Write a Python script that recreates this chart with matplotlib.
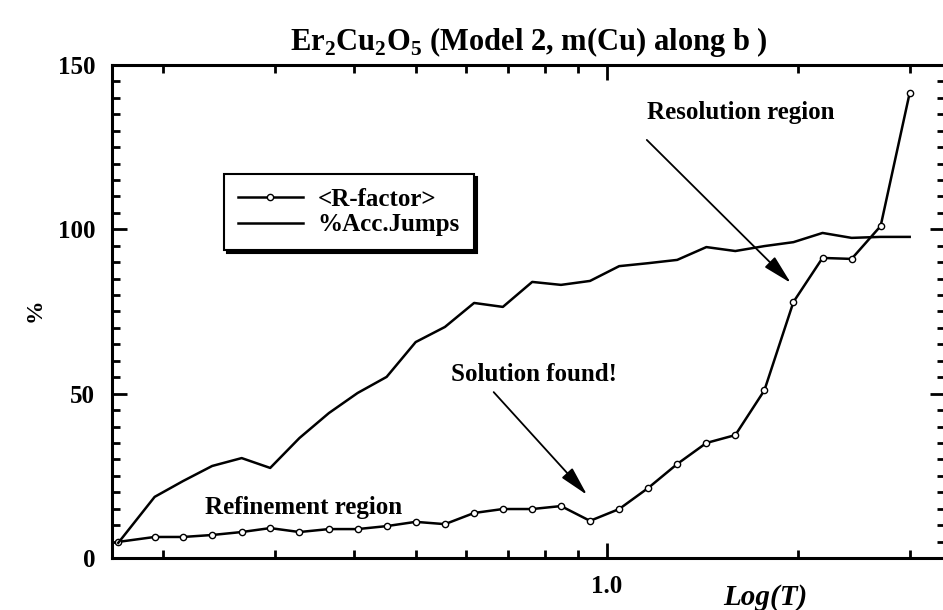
import matplotlib
matplotlib.use("Agg")
import matplotlib.pyplot as plt
from matplotlib.ticker import FixedLocator, MultipleLocator, NullFormatter

plt.rcParams['font.family'] = ['Liberation Serif', 'DejaVu Serif']
plt.rcParams['mathtext.fontset'] = 'custom'
plt.rcParams['mathtext.rm'] = 'Liberation Serif'
plt.rcParams['mathtext.bf'] = 'Liberation Serif:bold'

# temperature steps
temps = [0.170, 0.194, 0.215, 0.239, 0.266, 0.295, 0.328, 0.365, 0.405, 0.450,
         0.500, 0.556, 0.618, 0.686, 0.763, 0.847, 0.941, 1.046, 1.162, 1.291,
         1.435, 1.594, 1.771, 1.968, 2.187, 2.430, 2.700, 3.000]

r_factor = [4.9, 6.4, 6.4, 7.0, 7.9, 9.1, 7.9, 8.8, 8.8, 9.7,
            11.0, 10.3, 13.7, 14.9, 14.9, 15.8, 11.3, 14.9, 21.3, 28.6,
            35.0, 37.4, 51.0, 77.9, 91.3, 91.0, 101.0, 141.5]

acc_jumps = [4.6, 18.6, 23.4, 28.0, 30.4, 27.4, 36.5, 44.1, 50.2, 55.1,
             65.7, 70.3, 77.6, 76.4, 84.0, 83.1, 84.3, 88.8, 89.7, 90.7,
             94.6, 93.4, 94.9, 96.1, 98.9, 97.4, 97.7, 97.7]

x_major = [1.0]
x_minor = [0.2, 0.3, 0.4, 0.5, 0.6, 0.7, 0.8, 0.9, 2.0, 3.0]

fig = plt.figure(figsize=(9.43, 6.10), dpi=100)
ax = fig.add_axes([112/943, 1 - 558/610, 833/943, 493/610])

ax.plot(temps, r_factor, color='black', lw=1.8, marker='o', ms=4.5,
        mfc='white', mec='black', mew=1.0, label='<R-factor>')
ax.plot(temps, acc_jumps, color='black', lw=1.8, label='%Acc.Jumps')

ax.set_xscale('log')
ax.set_xlim(0.1662, 3.41)
ax.set_ylim(0, 150)

ax.xaxis.set_major_locator(FixedLocator(x_major))
ax.xaxis.set_minor_locator(FixedLocator(x_minor))
ax.xaxis.set_minor_formatter(NullFormatter())
ax.set_xticklabels(['1.0'])
ax.yaxis.set_major_locator(MultipleLocator(50))
ax.yaxis.set_minor_locator(MultipleLocator(5))

ax.tick_params(which='both', direction='in', top=True, right=True, width=2)
ax.tick_params(which='major', length=11, pad=12, labelsize=18)
ax.tick_params(which='minor', length=6)
for lab in ax.get_xticklabels() + ax.get_yticklabels():
    lab.set_fontweight('bold')
for s in ax.spines.values():
    s.set_linewidth(2.2)

ax.set_title(r'Er$_\mathbf{2}$Cu$_\mathbf{2}$O$_\mathbf{5}$ (Model 2, m(Cu) along b )',
             fontsize=22, fontweight='bold', pad=11)
ax.set_ylabel('%', fontsize=17, fontweight='bold', va='center')
ax.yaxis.set_label_coords(-0.092, 0.503)
ax.set_xlabel('Log(T)', fontsize=21, fontweight='bold', style='italic',
              va='center')
ax.xaxis.set_label_coords(0.784, -0.081)

arrow = dict(arrowstyle='-|>,head_length=0.9,head_width=0.22', color='black',
             lw=1.3, mutation_scale=20)
ax.text(0.333, 15.5, 'Refinement region', fontsize=18, fontweight='bold',
        ha='center', va='center')
ax.annotate('', xy=(0.937, 18.6), xytext=(0.659, 51.1), arrowprops=arrow)
ax.text(0.767, 55.7, 'Solution found!', fontsize=18, fontweight='bold',
        ha='center', va='center')
ax.annotate('', xy=(1.963, 83.1), xytext=(1.148, 127.8), arrowprops=arrow)
ax.text(1.626, 135.4, 'Resolution region', fontsize=18, fontweight='bold',
        ha='center', va='center')

leg = ax.legend(loc='upper left', bbox_to_anchor=(224/943, 1 - 174/610),
                bbox_transform=fig.transFigure, borderaxespad=0,
                fancybox=False, edgecolor='black', framealpha=1,
                shadow={'color': 'black', 'alpha': 1},
                prop={'weight': 'bold', 'size': 18}, handlelength=2.6,
                handletextpad=0.6, labelspacing=0.1, borderpad=0.55)
leg.get_frame().set_linewidth(1.5)

fig.savefig('out.png', dpi=100)
